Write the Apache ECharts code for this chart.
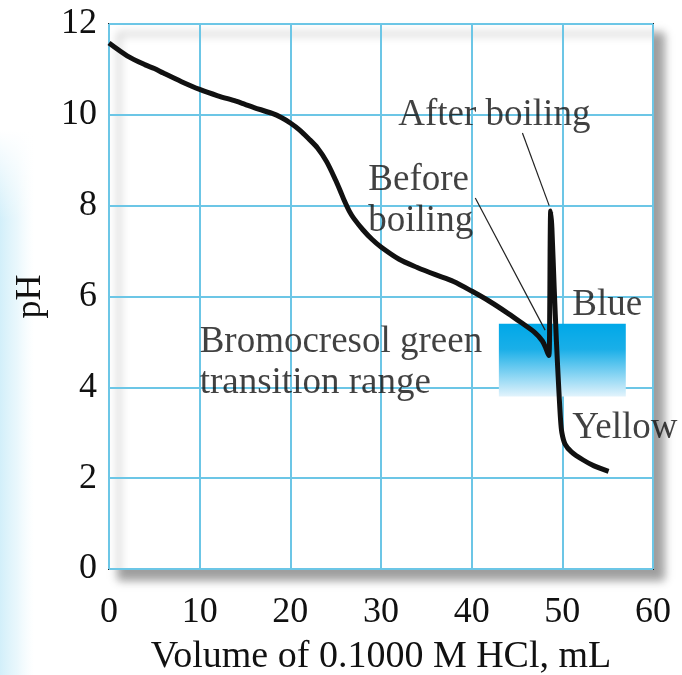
<!DOCTYPE html>
<html>
<head>
<meta charset="utf-8">
<script src="https://cdn.jsdelivr.net/npm/echarts@6/dist/echarts.min.js"></script>
<style>
  html, body { margin: 0; padding: 0; background: #fff; }
  #chart { width: 682px; height: 675px; }
</style>
</head>
<body>
<div id="chart"></div>
<script>
// titration curve, [mL HCl, pH]
let titration = [
    [0, 11.58], [2, 11.3], [4, 11.1], [5, 11.02], [6, 10.92], [8, 10.73], [10, 10.56],
    [12, 10.42], [14, 10.3], [15, 10.23], [16, 10.16], [18, 10.03], [19, 9.94],
    [20, 9.82], [21, 9.67], [22, 9.48], [23, 9.27], [24, 8.97], [25, 8.56],
    [25.5, 8.33], [26, 8.09], [26.5, 7.88], [27, 7.72], [28, 7.47], [29, 7.26], [30, 7.09],
    [32, 6.82], [34, 6.64], [36, 6.48], [38, 6.33], [40, 6.12], [42, 5.89], [44, 5.63],
    [45.5, 5.42], [47, 5.2], [47.8, 5.02], [48.2, 4.85], [48.5, 4.7],
    [48.6, 5.4], [48.65, 7.0], [48.72, 7.88], [48.85, 7.5], [49.1, 6.2],
    [49.35, 5.0], [49.6, 4.0], [49.8, 3.3], [49.95, 3.0], [50.3, 2.75],
    [51, 2.58], [52.3, 2.4], [53.5, 2.27], [55.1, 2.15]
];

// bromocresol green transition range
let transitionBox = [[43, 5.4], [57, 3.8]];

// leader lines
let beforeLeader = [[40.4, 8.17], [48.1, 5.26]];
let afterLeader = [[45.6, 9.6], [48.55, 8.0]];

// text labels: [x, y, text]
let notes = [
    [31.9, 9.98, 'After boiling'],
    [28.6, 8.1, 'Before\nboiling'],
    [10.0, 4.55, 'Bromocresol green\ntransition range'],
    [51.1, 5.8, 'Blue'],
    [51.1, 3.1, 'Yellow']
];

let xTicks = [0, 10, 20, 30, 40, 50, 60];
let yTicks = [0, 2, 4, 6, 8, 10, 12];

let dom = document.getElementById('chart');
let chart = echarts.init(dom);

let serif = '"Liberation Serif", "DejaVu Serif", serif';
let ink = '#111';

let option = {
    animation: false,
    backgroundColor: '#fff',
    graphic: [
        {
            type: 'rect',
            left: 0,
            top: 130,
            shape: { width: 34, height: 545 },
            style: {
                fill: new echarts.graphic.LinearGradient(0, 0, 1, 0, [
                    { offset: 0, color: 'rgba(205,237,249,0.9)' },
                    { offset: 0.5, color: 'rgba(215,241,250,0.55)' },
                    { offset: 1, color: 'rgba(230,246,252,0)' }
                ])
            },
            z: -2
        },
        {
            type: 'rect',
            left: 0,
            top: 130,
            shape: { width: 34, height: 90 },
            style: {
                fill: new echarts.graphic.LinearGradient(0, 0, 0, 1, [
                    { offset: 0, color: 'rgba(255,255,255,1)' },
                    { offset: 1, color: 'rgba(255,255,255,0)' }
                ])
            },
            z: -1
        }
    ],
    grid: {
        show: true,
        left: 109,
        right: 29,
        top: 24,
        bottom: 106,
        outerBoundsMode: 'none',
        backgroundColor: '#fff',
        borderColor: '#222',
        borderWidth: 2,
        shadowColor: 'rgba(0,0,0,0.38)',
        shadowBlur: 9,
        shadowOffsetX: 10,
        shadowOffsetY: 10
    },
    xAxis: {
        type: 'value',
        min: 0,
        max: 60,
        interval: 10,
        name: 'Volume of 0.1000 M HCl, mL',
        nameLocation: 'middle',
        nameGap: 69,
        nameTextStyle: { fontFamily: serif, fontSize: 38, color: ink },
        axisLine: { show: false },
        axisTick: { show: false },
        axisLabel: {
            margin: 26,
            fontFamily: serif,
            fontSize: 36,
            color: ink,
            formatter: function (v) { return xTicks.indexOf(v) >= 0 ? String(v) : ''; }
        },
        splitLine: { lineStyle: { color: '#6cc6e6', width: 2 } }
    },
    yAxis: {
        type: 'value',
        min: 0,
        max: 12,
        interval: 2,
        name: 'pH',
        nameLocation: 'middle',
        nameRotate: 90,
        nameGap: 60,
        nameTextStyle: { fontFamily: serif, fontSize: 36, color: ink },
        axisLine: { show: false },
        axisTick: { show: false },
        axisLabel: {
            margin: 12,
            fontFamily: serif,
            fontSize: 36,
            color: ink,
            formatter: function (v) { return yTicks.indexOf(v) >= 0 ? String(v) : ''; }
        },
        splitLine: { lineStyle: { color: '#6cc6e6', width: 2 } }
    },
    series: [
        {
            name: 'box',
            type: 'line',
            data: [],
            markArea: {
                silent: true,
                itemStyle: {
                    color: new echarts.graphic.LinearGradient(0, 0, 0, 1, [
                        { offset: 0, color: '#00a8e8' },
                        { offset: 0.35, color: '#1aafe8' },
                        { offset: 1, color: '#e2f3fc' }
                    ])
                },
                data: [[{ coord: transitionBox[0] }, { coord: transitionBox[1] }]]
            }
        },
        {
            name: 'before',
            type: 'line',
            showSymbol: false,
            data: beforeLeader,
            lineStyle: { color: '#222', width: 1.2 },
            z: 3
        },
        {
            name: 'after',
            type: 'line',
            showSymbol: false,
            data: afterLeader,
            lineStyle: { color: '#222', width: 1.2 },
            z: 3
        },
        {
            name: 'pH',
            type: 'line',
            showSymbol: false,
            smooth: 0.3,
            smoothMonotone: 'none',
            data: titration,
            lineStyle: { color: '#111', width: 5, join: 'round', cap: 'butt' },
            z: 4
        },
        {
            name: 'notes',
            type: 'scatter',
            symbolSize: 0,
            data: notes.map(function (n) { return { value: [n[0], n[1]], name: n[2] }; }),
            label: {
                show: true,
                position: [0, 0],
                align: 'left',
                verticalAlign: 'middle',
                fontFamily: serif,
                fontSize: 37,
                lineHeight: 41,
                color: ink,
                formatter: function (p) { return p.name; }
            },
            z: 5
        }
    ]
};

chart.setOption(option);
</script>
</body>
</html>
